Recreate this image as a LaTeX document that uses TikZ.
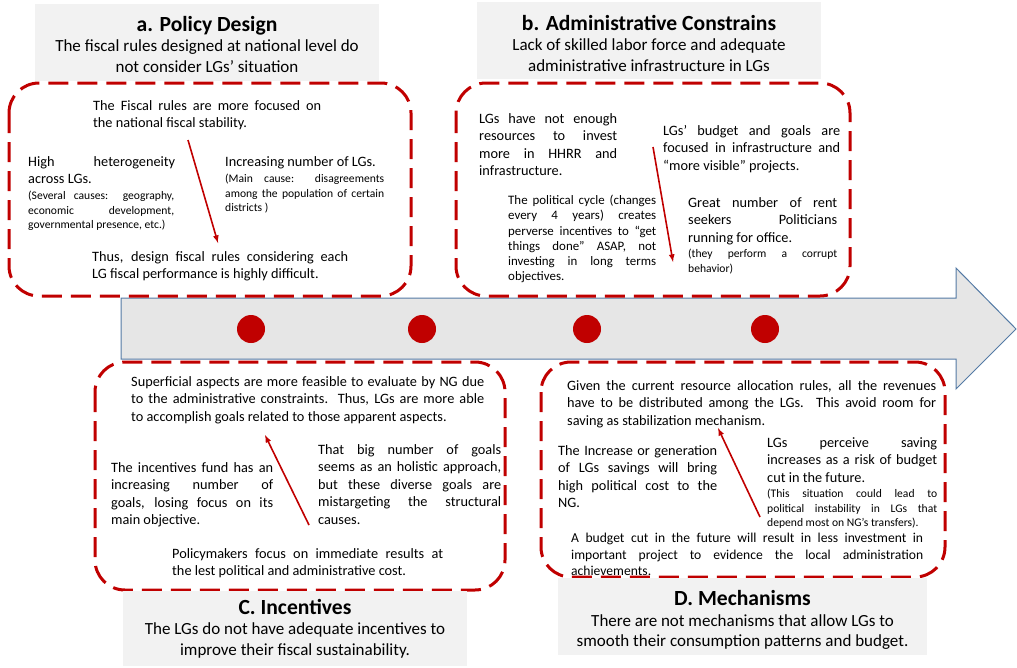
\documentclass[tikz,border=0pt]{standalone}
\usepackage{fontspec}
\setmainfont{Carlito}
\usepackage{tikz}
\usetikzlibrary{shapes,arrows}
\definecolor{redline}{RGB}{192,0,0}
\definecolor{titlegray}{RGB}{242,242,242}
\definecolor{bodygray}{RGB}{230,230,230}
\definecolor{bodyedge}{RGB}{84,122,165}
% no hyphens, lines are broken by hand with \break
\hyphenpenalty=10000
\exhyphenpenalty=10000
\tolerance=10000
\tikzstyle{dashbox} = [draw=redline, line width=3pt, dash pattern=on 20pt off 9pt,
    rounded corners=30pt]
\tikzstyle{titlebox} = [fill=titlegray, inner sep=0pt]
\tikzstyle{titletext} = [inner sep=0pt, align=center, font=\fontsize{17}{20.5}\selectfont]
\tikzstyle{txt} = [inner sep=0pt, anchor=north west, align=justify,
    font=\fontsize{14.3}{17.5}\selectfont]
\tikzstyle{midtxt} = [txt, font=\fontsize{12.9}{15.2}\selectfont]
\tikzstyle{smalltxt} = [txt, font=\fontsize{11.6}{14.5}\selectfont]
\tikzstyle{milestone} = [circle, fill=redline, minimum size=28pt, inner sep=0pt]
\tikzstyle{link} = [->, draw=redline, line width=1.6pt]
\newcommand{\headline}[1]{{\fontsize{21.6}{22}\selectfont\bfseries #1}\\[0pt]}

\begin{document}
\begin{tikzpicture}[>=latex, x=1pt, y=-1pt]
      \useasboundingbox (0,0) rectangle (1017,667);
      % the time line in the middle
      \draw[fill=bodygray, draw=bodyedge, line width=1pt] (121,298) -- (956,298)
          -- (956,268) -- (1016,329) -- (956,389) -- (956,359) -- (121,359) -- cycle;
      \foreach \x [count=\i] in {251,422,587,765}
          \node[milestone] (dot\i) at (\x,329) {};

      % the four dashed frames
      \draw[dashbox] (9,83) rectangle (411,296);
      \draw[dashbox] (456,83) rectangle (850,296);
      \draw[dashbox] (95,362) rectangle (505,590);
      \draw[dashbox] (541,362) rectangle (945,577);

      % title boxes, then their texts
      \node[titlebox, minimum width=344pt, minimum height=77pt] (titleA) at (207,42.5) {};
      \node[titlebox, minimum width=344pt, minimum height=77pt] (titleB) at (649,40.5) {};
      \node[titlebox, minimum width=344pt, minimum height=75pt] (titleC) at (295,628.5) {};
      \node[titlebox, minimum width=369pt, minimum height=77pt] (titleD) at (742.5,616.5) {};
      \node[titletext, yshift=-1.5pt] (headA) at (titleA)
          {\headline{a. Policy Design}The fiscal rules designed at national level do\\not consider LGs’ situation};
      \node[titletext, yshift=-2.5pt] (headB) at (titleB)
          {\headline{b. Administrative Constrains}Lack of skilled labor force and adequate\\administrative infrastructure in LGs};
      \node[titletext, yshift=0pt] (headC) at (titleC)
          {\headline{C. Incentives}The LGs do not have adequate incentives to\\improve their fiscal sustainability.};
      \node[titletext, yshift=-3.5pt] (headD) at (titleD)
          {\headline{D. Mechanisms}There are not mechanisms that allow LGs to\\smooth their consumption patterns and budget.};

      % a. Policy Design
      \node[txt, text width=228pt] (focus) at (93,100)
          {The Fiscal rules are more focused on\break the national fiscal stability.};
      \node[txt, text width=147pt] (hetero) at (28,156)
          {High heterogeneity\break across LGs.};
      \node[smalltxt, text width=146pt] (heteroWhy) at (28,191)
          {(Several causes: geography,\break economic development,\break governmental presence, etc.)};
      \node[txt, text width=158pt] (numLG) at (225,156) {Increasing number of LGs.};
      \node[smalltxt, text width=159pt] (numWhy) at (225,174)
          {(Main cause: disagreements\break among the population of certain\break districts )};
      \node[txt, text width=256pt] (thusA) at (92,251)
          {Thus, design fiscal rules considering each\break LG fiscal performance is highly difficult.};
      \coordinate (fromA) at (188,140);
      \coordinate (toA) at (218,243);
      \draw[link] (fromA) -- (toA);

      % b. Administrative Constrains
      \node[txt, text width=138pt] (resources) at (479,113)
          {LGs have not enough\break resources to invest\break more in HHRR and\break infrastructure.};
      \node[txt, text width=177pt] (budget) at (663,125)
          {LGs’ budget and goals are\break focused in infrastructure and\break “more visible” projects.};
      \node[midtxt, text width=148pt] (cycle) at (508,195)
          {The political cycle (changes\break every 4 years) creates\break perverse incentives to “get\break things done” ASAP, not\break investing in long terms\break objectives.};
      \node[txt, text width=149pt] (seekers) at (688,197)
          {Great number of rent\break seekers Politicians\break running for office.};
      \node[smalltxt, text width=149pt] (corrupt) at (688,249)
          {(they perform a corrupt\break behavior)};
      \coordinate (fromB) at (653,147);
      \coordinate (toB) at (673,262);
      \draw[link] (fromB) -- (toB);

      % C. Incentives
      \node[txt, text width=353pt] (superficial) at (131,376)
          {Superficial aspects are more feasible to evaluate by NG due\break to the administrative constraints. Thus, LGs are more able\break to accomplish goals related to those apparent aspects.};
      \node[txt, text width=162pt] (fund) at (111,462)
          {The incentives fund has an\break increasing number of\break goals, losing focus on its\break main objective.};
      \node[txt, text width=183pt] (holistic) at (318,444)
          {That big number of goals\break seems as an holistic approach,\break but these diverse goals are\break mistargeting the structural\break causes.};
      \node[txt, text width=271pt] (policymakers) at (172,548)
          {Policymakers focus on immediate results at\break the lest political and administrative cost.};
      \coordinate (fromC) at (309,525);
      \coordinate (toC) at (265,435);
      \draw[link] (fromC) -- (toC);

      % D. Mechanisms
      \node[txt, text width=369pt] (allocation) at (567,380)
          {Given the current resource allocation rules, all the revenues\break have to be distributed among the LGs. This avoid room for\break saving as stabilization mechanism.};
      \node[txt, text width=159pt] (savings) at (558,445)
          {The Increase or generation\break of LGs savings will bring\break high political cost to the\break NG.};
      \node[txt, text width=170pt] (perceive) at (767,437)
          {LGs perceive saving\break increases as a risk of budget\break cut in the future.};
      \node[smalltxt, text width=170pt] (instability) at (767,489)
          {(This situation could lead to\break political instability in LGs that\break depend most on NG’s transfers).};
      \node[txt, text width=352pt, font=\fontsize{13.6}{16.5}\selectfont] (budgetcut) at (571,533)
          {A budget cut in the future will result in less investment in\break important project to evidence the local administration\break achievements.};
      \coordinate (fromD) at (760,517);
      \coordinate (toD) at (718,428);
      \draw[link] (fromD) -- (toD);
\end{tikzpicture}
\end{document}
